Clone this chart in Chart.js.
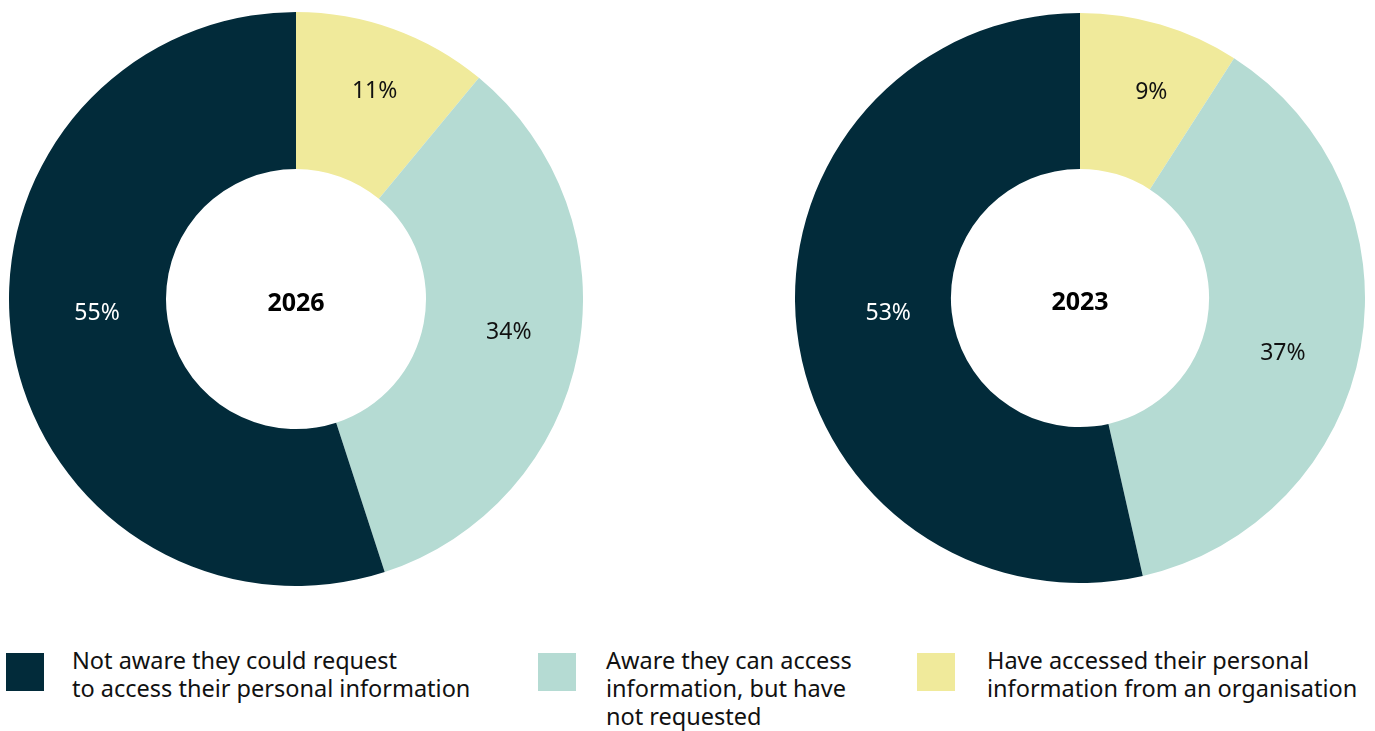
<!DOCTYPE html>
<html>
<head>
<meta charset="utf-8">
<script src="https://cdn.jsdelivr.net/npm/chart.js@4/dist/chart.umd.min.js"></script>
<style>
  body { margin: 0; background: #fff; width: 1375px; height: 731px; position: relative; overflow: hidden; font-family: "Noto Sans", sans-serif; }
  .pie { position: absolute; }
  #pie2026 { left: 9px; top: 12px; width: 574px; height: 574px; }
  #pie2023 { left: 795px; top: 13px; width: 570px; height: 570px; }
  .legend-item { position: absolute; top: 653px; }
  .swatch { position: absolute; left: 0; top: 0; width: 38px; height: 38px; }
  .legend-text { position: absolute; top: -7px; font-size: 23.5px; line-height: 28px; color: #111; white-space: nowrap; }
</style>
</head>
<body>
<div class="pie" id="pie2026"><canvas id="c2026"></canvas></div>
<div class="pie" id="pie2023"><canvas id="c2023"></canvas></div>
<div id="legend"></div>
<script>
// Categories and values (order: clockwise from 12 o'clock)
const categories = [
  'Have accessed their personal information from an organisation',
  'Aware they can access information, but have not requested',
  'Not aware they could request to access their personal information'
];
const values2026 = [11, 34, 55];
const values2023 = [9, 37, 53];
const colours = ['#F0EA9B', '#B5DBD3', '#022B3A'];
const labelColours = ['#111111', '#111111', '#FFFFFF'];

// legend lines, left to right
const legendLines = [
  ['Not aware they could request', 'to access their personal information'],
  ['Aware they can access', 'information, but have', 'not requested'],
  ['Have accessed their personal', 'information from an organisation']
];
const legendColours = ['#022B3A', '#B5DBD3', '#F0EA9B'];
const legendX = [6, 538, 917];
const legendTextX = [66, 68, 70];

// small hand nudges so the % labels sit where the designer put them
const nudge2026 = [[8, -11], [8, -6], [7, -18]];
const nudge2023 = [[13, -7], [-1, 19], [14, -7]];

const sliceLabels = {
  id: 'sliceLabels',
  afterDatasetsDraw(chart) {
    const ctx = chart.ctx;
    const meta = chart.getDatasetMeta(0);
    const data = chart.data.datasets[0].data;
    const nudge = chart.options.plugins.sliceLabels.nudge;
    ctx.save();
    ctx.font = '23px "Noto Sans"';
    ctx.textAlign = 'center';
    ctx.textBaseline = 'middle';
    meta.data.forEach((arc, i) => {
      const p = arc.tooltipPosition();
      ctx.fillStyle = labelColours[i];
      ctx.fillText(data[i] + '%', p.x + nudge[i][0], p.y + nudge[i][1]);
    });
    // year in the hole
    const a = meta.data[0];
    ctx.fillStyle = '#000';
    ctx.font = 'bold 25px "Noto Sans"';
    ctx.fillText(chart.options.plugins.sliceLabels.year, a.x, a.y + 5);
    ctx.restore();
  }
};

function makeDoughnut(id, values, year, nudge) {
  return new Chart(document.getElementById(id), {
    type: 'doughnut',
    data: {
      labels: categories,
      datasets: [{ data: values, backgroundColor: colours, borderWidth: 0 }]
    },
    options: {
      responsive: true,
      maintainAspectRatio: false,
      animation: false,
      cutout: '45.3%',
      layout: { padding: 0 },
      plugins: {
        legend: { display: false },
        tooltip: { enabled: false },
        sliceLabels: { year: year, nudge: nudge }
      }
    },
    plugins: [sliceLabels]
  });
}

makeDoughnut('c2026', values2026, '2026', nudge2026);
makeDoughnut('c2023', values2023, '2023', nudge2023);

// HTML legend
const legend = document.getElementById('legend');
legendLines.forEach((lines, i) => {
  const item = document.createElement('div');
  item.className = 'legend-item';
  item.style.left = legendX[i] + 'px';
  item.innerHTML = `<div class="swatch" style="background:${legendColours[i]}"></div>
    <div class="legend-text" style="left:${legendTextX[i]}px">${lines.join('<br>')}</div>`;
  legend.appendChild(item);
});
</script>
</body>
</html>
